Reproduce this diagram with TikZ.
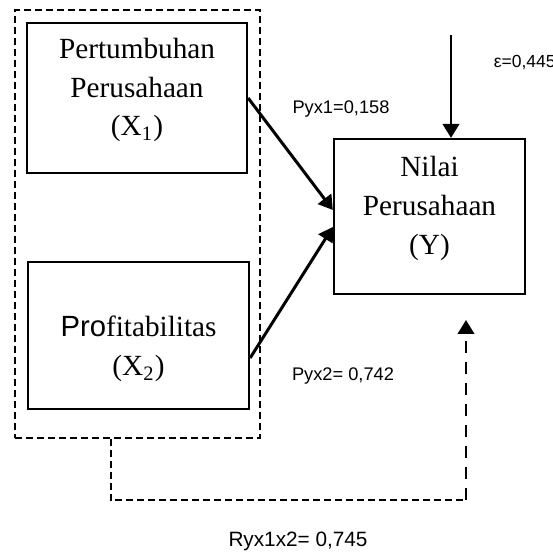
\documentclass[tikz,border=0pt]{standalone}
\usepackage{fontspec}
\setmainfont{Liberation Serif}
\setsansfont{Liberation Sans}
\usetikzlibrary{arrows.meta}
\newcommand{\lift}{\rule[-8.9pt]{0pt}{8.9pt}}
\begin{document}
\begin{tikzpicture}[x=0.4pt,y=-0.4pt,
   varbox/.style={draw,line width=0.9pt,align=center,inner sep=0pt,
      font=\fontsize{11.7}{15.5}\selectfont},
   coef/.style={font=\sffamily\fontsize{7.3}{9}\selectfont,anchor=base},
   shortdash/.style={line width=0.8pt,dash pattern=on 2.8pt off 1.6pt},
   longdash/.style={line width=1pt,dash pattern=on 4.8pt off 3.6pt},
   tip/.style={-{Triangle[length=5.6pt,width=6.6pt]}}]
   \useasboundingbox (0,0) rectangle (553,552);
   % group of the two variables
   \node[draw,shortdash,line width=0.75pt,minimum width=98pt,minimum height=171.2pt] (grp) at (137.5,224) {};
   \node[varbox,minimum width=88pt,minimum height=60pt] (x1) at (137,98) {Pertumbuhan\\Perusahaan\\(X\textsubscript{1})\lift};
   \node[varbox,minimum width=88.4pt,minimum height=58.8pt] (x2) at (138.5,335.5) {\rule{0pt}{3.6pt}\\{\sffamily Pro}fitabilitas\\(X\textsubscript{2})};
   \node[varbox,minimum width=76.4pt,minimum height=62pt] (y) at (429.5,216.5) {Nilai\\Perusahaan\\(Y)\lift};
   % paths
   \draw[line width=1.2pt,tip] (x1.east) -- ([yshift=2.6pt]y.west);
   \draw[line width=1.2pt,tip] ([yshift=-9pt]x2.east) -- ([yshift=-4.2pt]y.west);
   \node[coef] (p1) at (341,114) {Pyx1=0,158};
   \node[coef] (p2) at (343,381) {Pyx2= 0,742};
   % residual
   \coordinate (e) at (451,35);
   \draw[line width=1.1pt,tip] (e) -- (e |- y.north);
   \node[coef,anchor=base west,font=\sffamily\fontsize{7}{9}\selectfont] (eps) at (485,68) {ε=0,445};
   % correlation
   \coordinate (c1) at (466,500);
   \coordinate (c2) at (466,320);
   \draw[shortdash] ([xshift=-10.8pt]grp.south) |- (c1);
   \draw[longdash,tip] (c1) -- (c2);
   \node[coef,font=\sffamily\fontsize{8.3}{10}\selectfont] (r) at (298,546) {Ryx1x2= 0,745};
\end{tikzpicture}
\end{document}
